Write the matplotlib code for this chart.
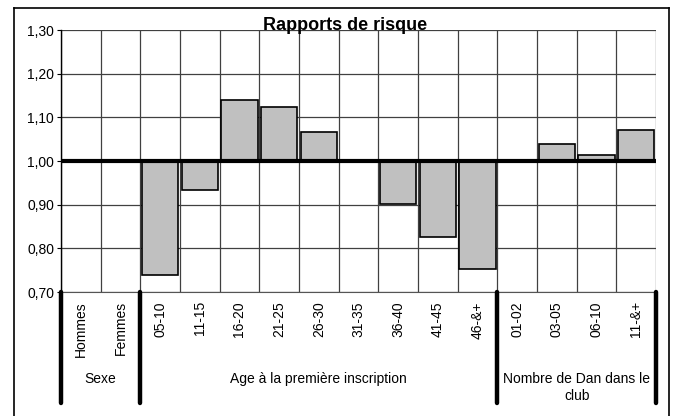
import numpy as np
import matplotlib
matplotlib.use('Agg')
import matplotlib.pyplot as plt
from matplotlib.lines import Line2D
from matplotlib.ticker import FuncFormatter

plt.rcParams['font.family'] = ['Liberation Sans', 'DejaVu Sans']

# Data
categories = ['Hommes', 'Femmes',
              '05-10', '11-15', '16-20', '21-25', '26-30', '31-35', '36-40', '41-45', '46-&+',
              '01-02', '03-05', '06-10', '11-&+']
ratios = [1.00, 1.00,
          0.738, 0.934, 1.140, 1.124, 1.066, 1.00, 0.902, 0.827, 0.752,
          1.00, 1.040, 1.014, 1.072]
groups = ['Sexe', 'Age à la première inscription', 'Nombre de Dan dans le\nclub']
group_sizes = [2, 9, 4]
title = 'Rapports de risque'

W, H = 686, 416
fig = plt.figure(figsize=(W / 100, H / 100), dpi=100)
ax = fig.add_axes([61 / W, (H - 292) / H, (656 - 61) / W, (292 - 30) / H])

x = np.arange(len(categories))
vals = np.array(ratios)
ax.bar(x, vals - 1.0, bottom=1.0, width=0.92, color='#c0c0c0',
       edgecolor='black', linewidth=1.2, zorder=3)

ax.set_xlim(-0.5, len(categories) - 0.5)
ax.set_ylim(0.70, 1.30)
ax.set_yticks(np.arange(0.70, 1.301, 0.10))
ax.yaxis.set_major_formatter(FuncFormatter(lambda v, p: f'{v:.2f}'.replace('.', ',')))
ax.tick_params(axis='y', direction='out', length=3, labelsize=10, pad=2)
ax.set_xticks([])
ax.set_xticks(np.arange(-0.5, len(categories)), minor=True)
ax.tick_params(axis='x', which='both', length=0)

ax.grid(axis='y', color='#404040', linewidth=0.9, zorder=1)
ax.grid(axis='x', which='minor', color='#404040', linewidth=0.9, zorder=1)
ax.axhline(1.0, color='black', linewidth=3.0, zorder=4)

for s in ['top', 'right']:
    ax.spines[s].set_visible(False)
ax.spines['left'].set_linewidth(1.0)
ax.spines['bottom'].set_color('#555555')

# category labels below the plot
trans = ax.get_xaxis_transform()
for i, c in enumerate(categories):
    ax.text(i, -0.035, c, rotation=90, ha='center', va='top', fontsize=10,
            transform=trans)

# group separators and group labels
bounds = np.concatenate([[0], np.cumsum(group_sizes)]) - 0.5
for b in bounds:
    ax.plot([b, b], [0, -0.425], color='black', linewidth=3.2,
            solid_capstyle='round', transform=trans, clip_on=False, zorder=5)
for g, lo, hi in zip(groups, bounds[:-1], bounds[1:]):
    ax.text((lo + hi) / 2, -0.305, g, ha='center', va='top', fontsize=10,
            linespacing=1.3, transform=trans)

ax.set_title(title, fontsize=13, fontweight='bold', x=(345.5 - 61) / (656 - 61),
             y=1.0, pad=0)

# outer frame (no bottom edge)
fig.add_artist(Line2D([13.5 / W, 13.5 / W], [0, 1 - 7.5 / H], color='black', lw=1.2))
fig.add_artist(Line2D([13.5 / W, 668.5 / W], [1 - 7.5 / H, 1 - 7.5 / H], color='black', lw=1.2))
fig.add_artist(Line2D([668.5 / W, 668.5 / W], [0, 1 - 7.5 / H], color='black', lw=1.2))

fig.savefig('out.png', dpi=100)
